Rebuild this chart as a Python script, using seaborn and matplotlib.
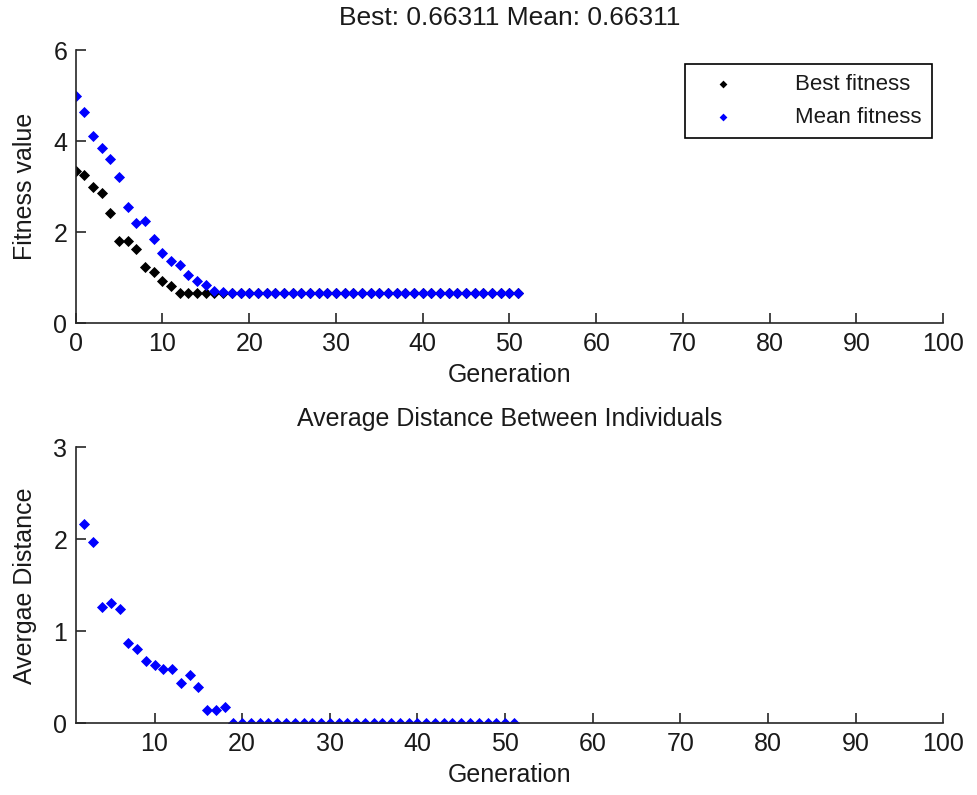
import numpy as np
import pandas as pd
import matplotlib
matplotlib.use('Agg')
import matplotlib.pyplot as plt
import seaborn as sns

# generations 0..51 of the GA run
gen = np.arange(0, 52)
best_fit = [3.35, 3.25, 3.00, 2.87, 2.42, 1.81, 1.81, 1.64, 1.23, 1.13, 0.92, 0.83,
            0.66311, 0.66311, 0.66311, 0.66311, 0.66311, 0.66311, 0.66311, 0.66311,
            0.66311, 0.66311, 0.66311, 0.66311, 0.66311, 0.66311, 0.66311, 0.66311,
            0.66311, 0.66311, 0.66311, 0.66311, 0.66311, 0.66311, 0.66311, 0.66311,
            0.66311, 0.66311, 0.66311, 0.66311, 0.66311, 0.66311, 0.66311, 0.66311,
            0.66311, 0.66311, 0.66311, 0.66311, 0.66311, 0.66311, 0.66311, 0.66311]
mean_fit = [5.00, 4.65, 4.12, 3.86, 3.61, 3.21, 2.56, 2.20, 2.24, 1.86, 1.55, 1.36,
            1.28, 1.06, 0.93, 0.84, 0.71, 0.69,
            0.66311, 0.66311, 0.66311, 0.66311, 0.66311, 0.66311, 0.66311, 0.66311,
            0.66311, 0.66311, 0.66311, 0.66311, 0.66311, 0.66311, 0.66311, 0.66311,
            0.66311, 0.66311, 0.66311, 0.66311, 0.66311, 0.66311, 0.66311, 0.66311,
            0.66311, 0.66311, 0.66311, 0.66311, 0.66311, 0.66311, 0.66311, 0.66311,
            0.66311, 0.66311]

# average distance, generations 2..51
gen_dist = np.arange(2, 52)
avg_dist = [2.17, 1.97, 1.26, 1.31, 1.24, 0.87, 0.81, 0.68, 0.63, 0.59, 0.59, 0.44,
            0.53, 0.39, 0.14, 0.14, 0.18,
            0, 0, 0, 0, 0, 0, 0, 0, 0, 0, 0,
            0, 0, 0, 0, 0, 0, 0, 0, 0, 0, 0,
            0, 0, 0, 0, 0, 0, 0, 0, 0, 0, 0]

df_fit = pd.DataFrame({'gen': gen, 'best': best_fit, 'mean': mean_fit})
df_dist = pd.DataFrame({'gen': gen_dist, 'dist': avg_dist})

sns.set_style('white')
plt.rcParams['font.family'] = ['Liberation Sans', 'DejaVu Sans']
plt.rcParams['font.size'] = 18
plt.rcParams['text.color'] = '#1a1a1a'
plt.rcParams['axes.labelcolor'] = '#1a1a1a'
plt.rcParams['xtick.color'] = '#1a1a1a'
plt.rcParams['ytick.color'] = '#1a1a1a'

fig = plt.figure(figsize=(9.78, 7.95), dpi=100)
ax1 = fig.add_axes([0.0774, 0.5933, 0.887, 0.3437])
ax2 = fig.add_axes([0.0774, 0.0902, 0.887, 0.3472])

ms = 32
sns.scatterplot(data=df_fit, x='gen', y='best', ax=ax1, color='black', marker='D',
                s=ms, linewidth=0, label='Best fitness')
sns.scatterplot(data=df_fit, x='gen', y='mean', ax=ax1, color='#0000ff', marker='D',
                s=ms, linewidth=0, label='Mean fitness')
sns.scatterplot(data=df_dist, x='gen', y='dist', ax=ax2, color='#0000ff', marker='D',
                s=ms, linewidth=0, legend=False)

ax1.set_xlim(0, 100)
ax1.set_ylim(0, 6)
ax1.set_yticks([0, 2, 4, 6])
ax1.set_xticks(range(0, 101, 10))
ax1.set_title('Best: 0.66311 Mean: 0.66311', fontsize=19, pad=18)
ax1.set_xlabel('Generation', fontsize=18, labelpad=5)
ax1.set_ylabel('Fitness value', fontsize=18, labelpad=12)

ax2.set_xlim(1, 100)
ax2.set_ylim(0, 3)
ax2.set_yticks([0, 1, 2, 3])
ax2.set_xticks(range(10, 101, 10))
ax2.set_title('Average Distance Between Individuals', fontsize=18, pad=15)
ax2.set_xlabel('Generation', fontsize=18, labelpad=5)
ax2.set_ylabel('Avergae Distance', fontsize=18, labelpad=12)

for ax in (ax1, ax2):
    sns.despine(ax=ax)
    for side in ('left', 'bottom'):
        ax.spines[side].set_color('#262626')
        ax.spines[side].set_linewidth(1.2)
    ax.tick_params(direction='in', length=7, width=1.2, color='#262626',
                   labelsize=18, pad=6, left=True, bottom=True)

leg = ax1.legend(loc='upper right', bbox_to_anchor=(0.987, 0.949), borderaxespad=0,
                 fontsize=16, frameon=True, fancybox=False, edgecolor='black',
                 framealpha=1, handletextpad=2.0, handlelength=2.5, borderpad=0.45,
                 labelspacing=0.55, markerscale=0.7)
leg.get_frame().set_linewidth(1.2)

fig.savefig('out.png', dpi=100)
